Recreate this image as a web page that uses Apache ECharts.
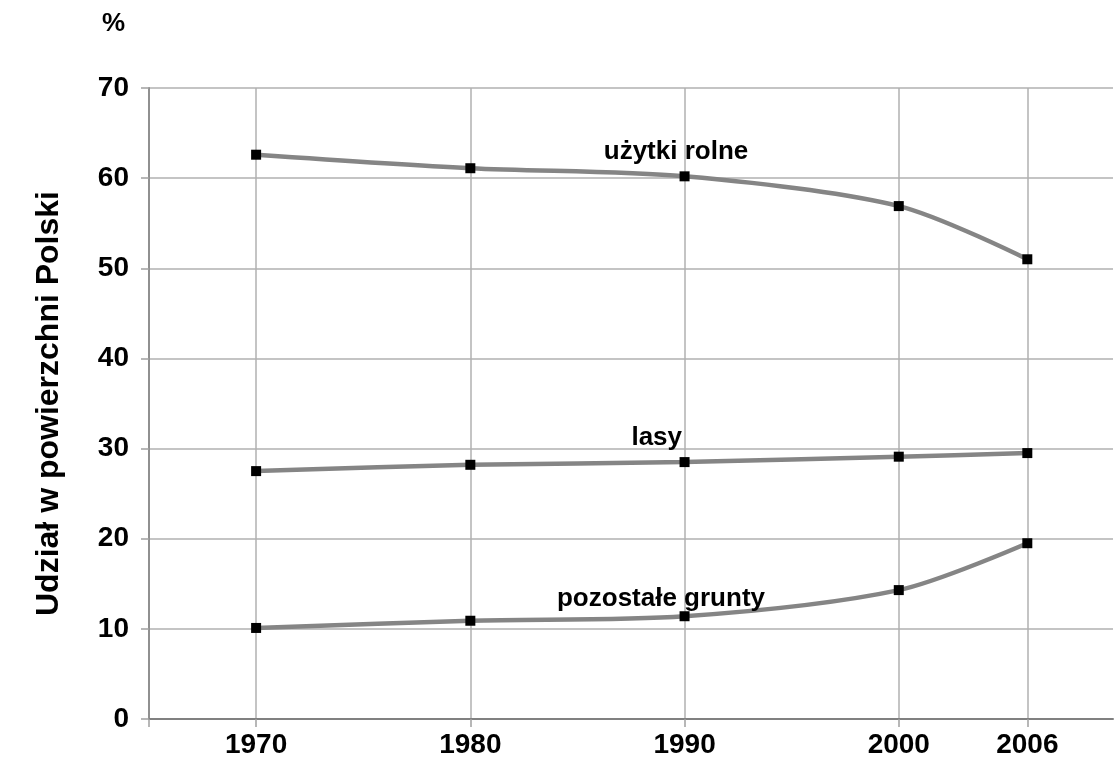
<!DOCTYPE html>
<html>
<head>
<meta charset="utf-8">
<script src="https://cdn.jsdelivr.net/npm/echarts@6/dist/echarts.min.js"></script>
<style>
html,body{margin:0;padding:0;background:#fff;}
#chart{width:1116px;height:765px;}
</style>
</head>
<body>
<div id="chart"></div>
<script>
const years = [1970, 1980, 1990, 2000, 2006];
const uzytkiRolne = [62.6, 61.1, 60.2, 56.9, 51.0];
const lasy = [27.5, 28.2, 28.5, 29.1, 29.5];
const pozostale = [10.1, 10.9, 11.4, 14.3, 19.5];
const seriesNames = ['użytki rolne', 'lasy', 'pozostałe grunty'];
const labelPos = [[1989.6, 62.9], [1988.7, 31.2], [1988.9, 13.3]];

const font = '"Liberation Sans", Arial, sans-serif';
const chart = echarts.init(document.getElementById('chart'), null, {renderer: 'canvas'});

function mkSeries(name, vals, pos) {
  return {
    name: name,
    type: 'line',
    data: years.map((y, i) => [y, vals[i]]),
    smooth: 0.3,
    symbol: 'rect',
    symbolSize: 10,
    itemStyle: {color: '#000'},
    lineStyle: {color: '#858585', width: 4.5},
    z: 3,
    markPoint: {
      symbol: 'rect',
      symbolSize: 1,
      silent: true,
      itemStyle: {color: 'rgba(0,0,0,0)'},
      data: [{coord: pos, value: name}],
      label: {
        show: true,
        formatter: name,
        position: 'inside',
        color: '#000',
        fontFamily: font,
        fontWeight: 'bold',
        fontSize: 26
      }
    }
  };
}

chart.setOption({
  animation: false,
  backgroundColor: '#fff',
  grid: {left: 149, right: 3, top: 88, bottom: 46, containLabel: false},
  xAxis: {
    type: 'value',
    min: 1965,
    max: 2010,
    axisLine: {show: true, lineStyle: {color: '#808080', width: 2}},
    axisTick: {show: true, length: 8, customValues: [1965].concat(years), lineStyle: {color: '#a0a0a0', width: 1.5}},
    axisLabel: {
      customValues: years,
      formatter: v => String(v),
      margin: 12,
      color: '#000',
      fontFamily: font,
      fontWeight: 'bold',
      fontSize: 28
    },
    splitLine: {show: true, lineStyle: {color: '#b0b0b0', width: 1.5}}
  },
  yAxis: {
    type: 'value',
    min: 0,
    max: 70,
    interval: 10,
    name: 'Udział w powierzchni Polski',
    nameLocation: 'middle',
    nameGap: 84,
    nameTextStyle: {color: '#000', fontFamily: font, fontWeight: 'bold', fontSize: 32},
    axisLine: {show: true, lineStyle: {color: '#909090', width: 2}},
    axisTick: {show: true, length: 8, lineStyle: {color: '#a0a0a0', width: 1.5}},
    axisLabel: {
      margin: 20,
      color: '#000',
      fontFamily: font,
      fontWeight: 'bold',
      fontSize: 28
    },
    splitLine: {show: true, lineStyle: {color: '#b0b0b0', width: 1.5}}
  },
  graphic: [{
    type: 'text',
    left: 102,
    top: 11,
    style: {text: '%', fill: '#000', font: 'bold 26px ' + font}
  }],
  series: [
    mkSeries(seriesNames[0], uzytkiRolne, labelPos[0]),
    mkSeries(seriesNames[1], lasy, labelPos[1]),
    mkSeries(seriesNames[2], pozostale, labelPos[2])
  ]
});
</script>
</body>
</html>
